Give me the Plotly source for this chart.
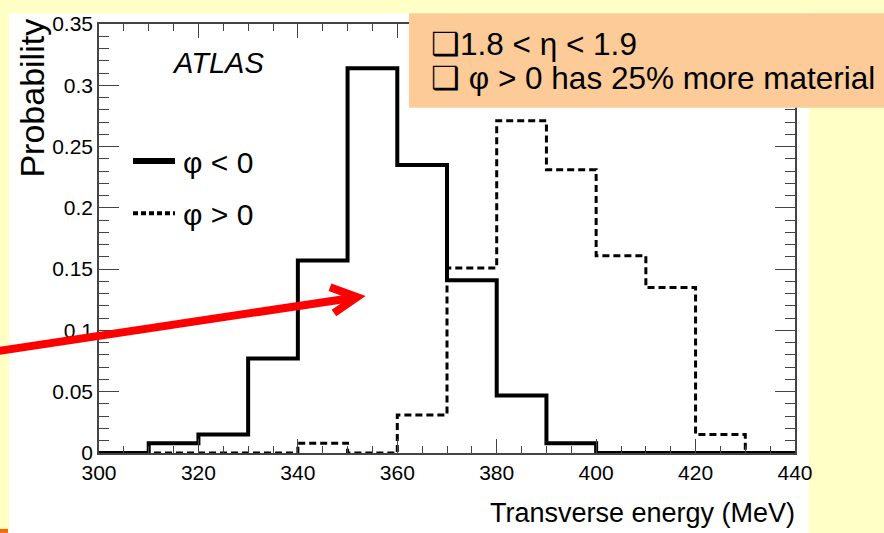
import plotly.graph_objects as go

# ---- data ----
bin_edges = [300, 310, 320, 330, 340, 350, 360, 370, 380, 390, 400, 410, 420, 430, 440]
phi_neg = [0.0, 0.008, 0.015, 0.077, 0.157, 0.314, 0.235, 0.141, 0.047, 0.008, 0.0, 0.0, 0.0, 0.0]
phi_pos = [0.0, 0.0, 0.0, 0.0, 0.008, 0.0, 0.031, 0.151, 0.271, 0.231, 0.161, 0.135, 0.015, 0.0]
x_ticks = [300, 320, 340, 360, 380, 400, 420, 440]
y_ticks = [0, 0.05, 0.1, 0.15, 0.2, 0.25, 0.3, 0.35]
y_tick_text = ["0", "0.05", "0.1", "0.15", "0.2", "0.25", "0.3", "0.35"]
legend_labels = ["φ < 0", "φ > 0"]
box_lines = ["❑1.8 < η < 1.9", "❑ φ > 0 has 25% more material"]

W, H = 884, 533
L, R, T, B = 99, 795, 18, 453


def px(x):
    return (x - L) / (R - L)


def py(y):
    return (B - y) / (B - T)


TICKFONT = dict(family="Liberation Sans, Arial, sans-serif", size=21, color="black")
SANS = "Liberation Sans, Arial, sans-serif"

fig = go.Figure()
fig.add_trace(go.Scatter(x=bin_edges, y=phi_neg + [phi_neg[-1]], mode="lines", line_shape="hv",
                         line=dict(color="black", width=4), name=legend_labels[0], showlegend=False))
fig.add_trace(go.Scatter(x=bin_edges, y=phi_pos + [phi_pos[-1]], mode="lines", line_shape="hv",
                         line=dict(color="black", width=3, dash="7px,4px"), name=legend_labels[1], showlegend=False))

shapes = []
# white slide region
shapes.append(dict(type="rect", xref="paper", yref="paper", x0=px(9), x1=px(809), y0=py(540), y1=py(7),
                   fillcolor="white", line=dict(width=0), layer="below"))
# orange mark bottom-left
shapes.append(dict(type="rect", xref="paper", yref="paper", x0=px(0), x1=px(8), y0=py(534), y1=py(530),
                   fillcolor="#FF6600", line=dict(width=0), layer="above"))
# orange info box
shapes.append(dict(type="rect", xref="paper", yref="paper", x0=px(409), x1=px(890), y0=py(103), y1=py(7),
                   fillcolor="#FCCB97", line=dict(width=0), layer="above"))
# legend samples
shapes.append(dict(type="line", xref="paper", yref="paper", x0=px(133), x1=px(175), y0=py(157), y1=py(157),
                   line=dict(color="black", width=6)))
shapes.append(dict(type="line", xref="paper", yref="paper", x0=px(133), x1=px(175), y0=py(210), y1=py(210),
                   line=dict(color="black", width=4, dash="5px,3px")))
# red arrow
shapes.append(dict(type="line", xref="paper", yref="paper", x0=px(-5), x1=px(357), y0=py(350), y1=py(295),
                   line=dict(color="#FF0000", width=8)))
shapes.append(dict(type="path", xref="paper", yref="paper",
                   path="M {:.5f},{:.5f} L {:.5f},{:.5f} L {:.5f},{:.5f}".format(px(330), py(285), px(357), py(295), px(334), py(311)),
                   line=dict(color="#FF0000", width=8)))

annotations = []
annotations.append(dict(xref="paper", yref="paper", x=px(170), y=py(58), xanchor="left", yanchor="middle",
                        text="<i>ATLAS</i>", showarrow=False, font=dict(family=SANS, size=29, color="black")))
annotations.append(dict(xref="paper", yref="paper", x=px(181), y=py(158), xanchor="left", yanchor="middle",
                        text=legend_labels[0], showarrow=False, font=dict(family=SANS, size=30, color="black")))
annotations.append(dict(xref="paper", yref="paper", x=px(181), y=py(211), xanchor="left", yanchor="middle",
                        text=legend_labels[1], showarrow=False, font=dict(family=SANS, size=30, color="black")))
annotations.append(dict(xref="paper", yref="paper", x=px(429), y=py(38), xanchor="left", yanchor="middle",
                        text=box_lines[0], align="left", showarrow=False,
                        font=dict(family=SANS, size=31.5, color="black")))
annotations.append(dict(xref="paper", yref="paper", x=px(429), y=py(73), xanchor="left", yanchor="middle",
                        text=box_lines[1], align="left", showarrow=False,
                        font=dict(family=SANS, size=31.5, color="black")))
annotations.append(dict(xref="paper", yref="paper", x=px(32), y=py(11), xanchor="center", yanchor="top",
                        text="Probability", textangle=-90, showarrow=False,
                        font=dict(family=SANS, size=34, color="black")))
annotations.append(dict(xref="paper", yref="paper", x=px(797), y=py(514), xanchor="right", yanchor="middle",
                        text="Transverse energy (MeV)", showarrow=False,
                        font=dict(family=SANS, size=27, color="black")))

fig.update_layout(
    width=W, height=H,
    margin=dict(l=L, r=W - R, t=T, b=H - B, pad=0),
    paper_bgcolor="#FFFFC6",
    plot_bgcolor="white",
    showlegend=False,
    shapes=shapes,
    annotations=annotations,
    xaxis=dict(range=[300, 440], tickvals=x_ticks, ticks="inside", ticklen=14, tickwidth=1.2,
               tickcolor="#444", showline=True, linecolor="#444", linewidth=1.5, mirror="ticks",
               showgrid=False, zeroline=False, tickfont=TICKFONT,
               minor=dict(dtick=5, ticks="inside", ticklen=7, tickcolor="#444", tickwidth=1.2, showgrid=False)),
    yaxis=dict(range=[0, 0.35], tickvals=y_ticks, ticktext=y_tick_text, ticks="inside", ticklen=20, tickwidth=1.2,
               tickcolor="#444", showline=True, linecolor="#444", linewidth=1.5, mirror="ticks",
               showgrid=False, zeroline=False, tickfont=TICKFONT,
               minor=dict(dtick=0.01, ticks="inside", ticklen=10, tickcolor="#444", tickwidth=1.2, showgrid=False)),
)

fig.write_html("out.html")
